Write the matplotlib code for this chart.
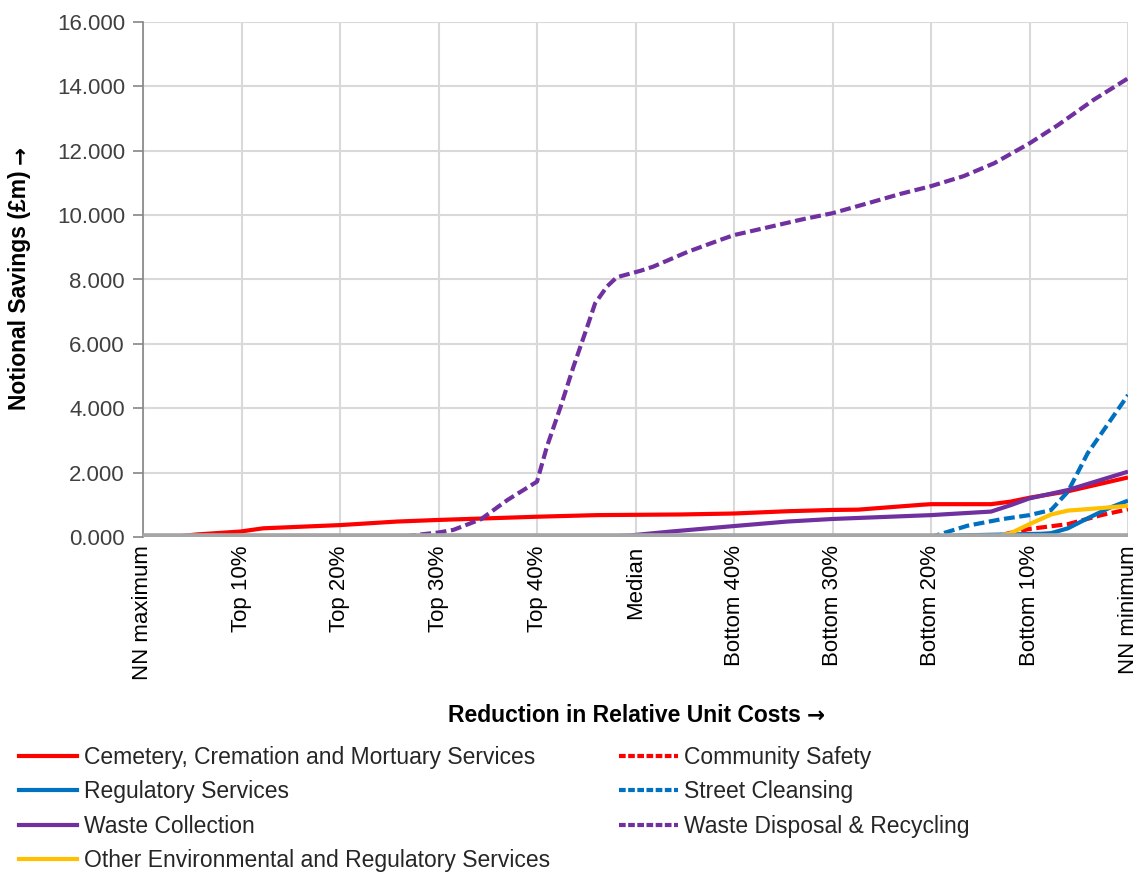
import matplotlib
matplotlib.use("Agg")
import matplotlib.pyplot as plt
from matplotlib.lines import Line2D
import matplotlib.transforms as mtransforms

plt.rcParams['font.family'] = ['Liberation Sans', 'DejaVu Sans']

# ---- data ----
x_labels = ["NN maximum", "Top 10%", "Top 20%", "Top 30%", "Top 40%", "Median",
            "Bottom 40%", "Bottom 30%", "Bottom 20%", "Bottom 10%", "NN minimum"]

ccm_x = [0, 0.3, 0.55, 0.99, 1.22, 2.0, 2.58, 3.0, 4.0, 4.61, 5.46, 6.0, 6.54, 7.0, 7.26, 7.9, 8.0, 8.61, 8.81, 9.0, 9.39, 10.0]
ccm_y = [0, 0.0, 0.08, 0.17, 0.27, 0.37, 0.48, 0.53, 0.63, 0.68, 0.70, 0.73, 0.80, 0.84, 0.85, 1.0, 1.02, 1.02, 1.1, 1.22, 1.42, 1.85]

cs_x = [0, 8.61, 8.84, 9.0, 9.39, 9.73, 10.0]
cs_y = [0, 0.0, 0.15, 0.25, 0.40, 0.68, 0.86]

reg_x = [0, 8.0, 8.3, 9.12, 9.22, 9.39, 9.59, 9.8, 10.0]
reg_y = [0, 0.0, 0.05, 0.10, 0.12, 0.27, 0.58, 0.89, 1.13]

sc_x = [0, 8.0, 8.37, 8.71, 9.0, 9.22, 9.39, 9.59, 10.0]
sc_y = [0, 0.0, 0.35, 0.55, 0.68, 0.84, 1.41, 2.6, 4.41]

wc_x = [0, 4.64, 4.95, 5.36, 6.0, 6.54, 7.0, 8.0, 8.61, 8.81, 9.0, 9.39, 10.0]
wc_y = [0, 0.0, 0.05, 0.17, 0.34, 0.48, 0.56, 0.68, 0.79, 0.99, 1.2, 1.46, 2.03]

wdr_x = [0, 2.61, 2.82, 3.0, 3.15, 3.43, 3.70, 4.0, 4.10, 4.24, 4.37, 4.51, 4.59, 4.71, 4.81, 5.05, 5.18,
         5.53, 5.86, 6.0, 6.37, 6.71, 7.0, 7.36, 7.69, 8.0, 8.33, 8.64, 9.0, 9.29, 9.65, 10.0]
wdr_y = [0, 0.0, 0.08, 0.14, 0.22, 0.55, 1.15, 1.72, 2.8, 4.05, 5.29, 6.53, 7.26, 7.78, 8.07, 8.27, 8.4,
         8.86, 9.23, 9.38, 9.64, 9.88, 10.06, 10.37, 10.66, 10.9, 11.21, 11.61, 12.23, 12.8, 13.58, 14.25]

oer_x = [0, 8.66, 8.81, 9.0, 9.22, 9.39, 9.73, 10.0]
oer_y = [0, 0.0, 0.12, 0.40, 0.70, 0.82, 0.90, 0.97]

series = [
    ("Cemetery, Cremation and Mortuary Services", ccm_x, ccm_y, "#ff0000", "-"),
    ("Community Safety", cs_x, cs_y, "#ff0000", "--"),
    ("Regulatory Services", reg_x, reg_y, "#0070c0", "-"),
    ("Street Cleansing", sc_x, sc_y, "#0070c0", "--"),
    ("Waste Collection", wc_x, wc_y, "#7030a0", "-"),
    ("Waste Disposal & Recycling", wdr_x, wdr_y, "#7030a0", "--"),
    ("Other Environmental and Regulatory Services", oer_x, oer_y, "#ffc000", "-"),
]

W, H = 1141, 872
fig = plt.figure(figsize=(W/100, H/100), dpi=100)
ax = fig.add_axes([143/W, 1 - 537/H, (1128-143)/W, (537-22)/H])

dash = (0, (2.6, 1.1))
handles = {}
for name, xs, ys, col, ls in series:
    style = dash if ls == "--" else "-"
    ax.plot(xs, ys, color=col, lw=3.0, linestyle=style, zorder=3,
            solid_capstyle='butt', dash_capstyle='butt')
    handles[name] = Line2D([], [], color=col, lw=3.0,
                           linestyle=(0, (1.6, 0.6)) if ls == "--" else "-")

ax.axhline(0, color="#a6a6a6", lw=5.5, zorder=6, solid_capstyle='butt')

ax.set_xlim(0, 10)
ax.set_ylim(0, 16)
ax.set_yticks(range(0, 17, 2))
ax.set_yticklabels([f"{v:.3f}" for v in range(0, 17, 2)], fontsize=16, color="#404040")
ax.set_xticks(range(11))
ax.set_xticklabels(x_labels, rotation=90, fontsize=16, color="#000000", va="top", ha="center")
shift = mtransforms.ScaledTranslation(8/100, 0, fig.dpi_scale_trans)
for lab in ax.get_xticklabels():
    lab.set_transform(lab.get_transform() + shift)
ax.tick_params(axis="x", length=0, pad=6)
ax.set_xticks(range(0, 11, 2), minor=True)
ax.tick_params(axis="x", which="minor", length=7, color="#868686", width=1.2)
ax.tick_params(axis="y", length=7, color="#868686", width=1.2, pad=6)

ax.grid(True, which="major", color="#d9d9d9", lw=1.5, zorder=0)
ax.set_axisbelow(True)
for s in ["top", "right", "bottom"]:
    ax.spines[s].set_visible(False)
ax.spines["left"].set_color("#868686")
ax.spines["left"].set_linewidth(1.2)

# axis titles with arrows
renderer = fig.canvas.get_renderer()
arrow_kw = dict(family="DejaVu Sans", fontsize=15.5, fontweight="bold")
gap = 6

xt = fig.text(0, 0, "Reduction in Relative Unit Costs", fontsize=16.5, fontweight="bold",
              ha="left", va="center")
xa = fig.text(0, 0, "→", ha="left", va="center", **arrow_kw)
wt = xt.get_window_extent(renderer).width
wa = xa.get_window_extent(renderer).width
total = wt + gap + wa
x0 = 636 - total/2
yc = 1 - 716/H
xt.set_position((x0/W, yc))
xa.set_position(((x0 + wt + gap)/W, yc))

yt = fig.text(0, 0, "Notional Savings (£m)", fontsize=16.5, fontweight="bold", rotation=90,
              ha="center", va="bottom")
ya = fig.text(0, 0, "→", rotation=90, ha="center", va="bottom", **arrow_kw)
ht = yt.get_window_extent(renderer).height
ha_ = ya.get_window_extent(renderer).height
total = ht + gap + ha_
ycen = H - 278
y0 = ycen - total/2
yt.set_position((20/W, y0/H))
ya.set_position((20/W, (y0 + ht + gap)/H))

order = ["Cemetery, Cremation and Mortuary Services", "Regulatory Services", "Waste Collection",
         "Other Environmental and Regulatory Services", "Community Safety", "Street Cleansing",
         "Waste Disposal & Recycling"]
leg = fig.legend([handles[n] for n in order], order, ncol=2, loc="upper left",
                 bbox_to_anchor=(19/W, 1 - 746/H), frameon=False, fontsize=16.5,
                 handlelength=2.55, handletextpad=0.3, columnspacing=3.0, labelspacing=0.5,
                 borderaxespad=0, borderpad=0)
for t in leg.get_texts():
    t.set_color("#262626")

fig.savefig("out.png", dpi=100)
